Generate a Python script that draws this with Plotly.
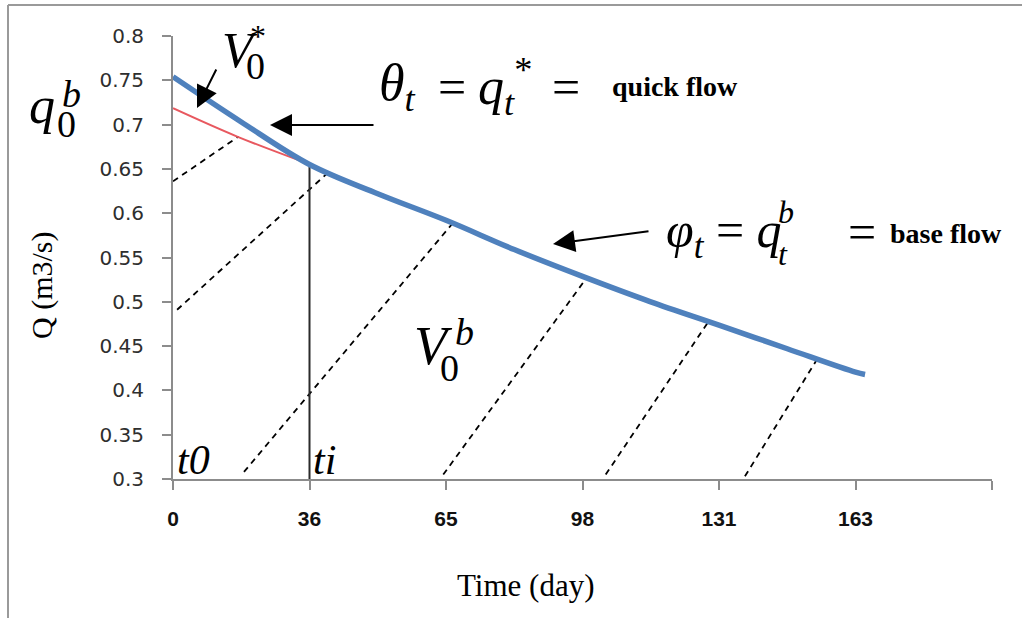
import plotly.graph_objects as go

# Time axis: evenly spaced slots, each labelled with its day number
slot_pos = [0, 1, 2, 3, 4, 5, 6]
day_labels = ["0", "36", "65", "98", "131", "163", ""]

# Discharge axis ticks
q_ticks = [0.3, 0.35, 0.4, 0.45, 0.5, 0.55, 0.6, 0.65, 0.7, 0.75, 0.8]
q_tick_text = ["0.3", "0.35", "0.4", "0.45", "0.5", "0.55", "0.6", "0.65", "0.7", "0.75", "0.8"]

# Observed recession discharge Q (m3/s)
flow_x = [0, 0.5, 1.0, 1.5, 2.0, 2.5, 3.0, 3.5, 4.0, 4.5, 5.0, 5.07]
flow_q = [0.754, 0.703, 0.655, 0.622, 0.592, 0.559, 0.5287, 0.500, 0.4737, 0.447, 0.4206, 0.418]

# Base-flow recession extended back from ti to t0
base_x = [0, 0.47, 0.98]
base_q = [0.7185, 0.6865, 0.6565]

# Vertical marker at ti
ti_x = [1, 1]
ti_q = [0.3, 0.656]

# Hatching under the base-flow volume (start / end of each dashed segment)
hatch_x0 = [0.0, 0.03, 0.52, 1.98, 3.17, 4.19]
hatch_q0 = [0.636, 0.491, 0.308, 0.305, 0.305, 0.303]
hatch_x1 = [0.48, 1.13, 2.04, 3.03, 3.92, 4.72]
hatch_q1 = [0.6865, 0.645, 0.587, 0.527, 0.477, 0.4355]

fig = go.Figure()

for xa, qa, xb, qb in zip(hatch_x0, hatch_q0, hatch_x1, hatch_q1):
    fig.add_trace(go.Scatter(x=[xa, xb], y=[qa, qb], mode="lines",
                             line=dict(color="black", width=1.8, dash="6px,5px"),
                             hoverinfo="skip"))

fig.add_trace(go.Scatter(x=ti_x, y=ti_q, mode="lines",
                         line=dict(color="#2b2b2b", width=2), hoverinfo="skip"))
fig.add_trace(go.Scatter(x=base_x, y=base_q, mode="lines",
                         line=dict(color="#e8585f", width=2, shape="spline"), hoverinfo="skip"))
fig.add_trace(go.Scatter(x=flow_x, y=flow_q, mode="lines",
                         line=dict(color="#4f81bd", width=5.5, shape="spline"), hoverinfo="skip"))

L, T, W, H = 173, 36, 819, 443


def px(x):
    return (x - L) / W


def py(y):
    return (T + H - y) / H


SERIF = "Liberation Serif"


def note(text, x, y, size, xanchor="center", family=SERIF, **kw):
    return dict(text=text, x=px(x), y=py(y), xref="paper", yref="paper",
                showarrow=False, xanchor=xanchor, yanchor="middle",
                font=dict(family=family, size=size, color="black"), **kw)


def arrow(tip, tail):
    return dict(text="", x=px(tip[0]), y=py(tip[1]), xref="paper", yref="paper",
                ax=tail[0] - tip[0], ay=tail[1] - tip[1], showarrow=True,
                arrowhead=2, arrowsize=2.2, arrowwidth=2, arrowcolor="black")


annotations = [
    # q0^b
    note("<i>q</i>", 42, 106, 52),
    note("<i>b</i>", 71, 94, 38),
    note("0", 67, 124, 38),
    # V0^*
    note("<i>V</i>", 240, 50, 50),
    note("*", 258, 36, 32),
    note("0", 255, 66, 38),
    # V0^b
    note("<i>V</i>", 433, 346, 54),
    note("<i>b</i>", 464, 332, 38),
    note("0", 449, 368, 38),
    # quick flow
    note("<i>θ</i><sub><i>t</i></sub>", 377, 86, 52, xanchor="left"),
    note("=", 452, 87, 50),
    note("<i>q</i><sub><i>t</i></sub><sup>*</sup>", 476, 86, 52, xanchor="left"),
    note("=", 566, 87, 50),
    note("<b>quick flow</b>", 610, 87, 28, xanchor="left"),
    # base flow
    note("<i>φ</i><sub><i>t</i></sub> = <i>q</i>", 664, 234, 50, xanchor="left"),
    note("<i>b</i>", 786, 212, 32),
    note("<i>t</i>", 783, 254, 32),
    note("=", 862, 232, 50),
    note("<b>base flow</b>", 888, 233, 28, xanchor="left"),
    # time markers
    note("<i>t0</i>", 175, 460, 42, xanchor="left"),
    note("<i>ti</i>", 311, 460, 42, xanchor="left"),
    # axis titles
    note("Q (m3/s)", 42, 285, 30, textangle=-90),
    note("Time (day)", 526, 585, 31),
    # arrows
    arrow((197, 108), (217, 68)),
    arrow((270, 125), (375, 125)),
    arrow((553, 244), (650, 231)),
]

frame = dict(color="#9a9a9a", width=2)
fig.update_layout(
    width=1022, height=618,
    margin=dict(l=L, r=1022 - L - W, t=T, b=618 - T - H),
    paper_bgcolor="white", plot_bgcolor="white",
    showlegend=False,
    annotations=annotations,
    shapes=[
        dict(type="line", xref="paper", yref="paper",
             x0=px(8), x1=px(8), y0=py(5), y1=py(620), line=frame),
        dict(type="line", xref="paper", yref="paper",
             x0=px(8), x1=px(1024), y0=py(5), y1=py(5), line=frame),
    ],
)

fig.update_xaxes(range=[0, 6], tickmode="array", tickvals=slot_pos, ticktext=day_labels,
                 ticks="outside", ticklen=9, tickwidth=2, tickcolor="#8c8c8c",
                 showline=True, linecolor="#8c8c8c", linewidth=2,
                 showgrid=False, zeroline=False, ticklabelstandoff=11,
                 tickfont=dict(family="Liberation Sans", size=21, color="#111111", weight="bold"))
fig.update_yaxes(range=[0.3, 0.8], tickmode="array", tickvals=q_ticks, ticktext=q_tick_text,
                 ticks="outside", ticklen=9, tickwidth=2, tickcolor="#8c8c8c",
                 showline=True, linecolor="#8c8c8c", linewidth=2,
                 showgrid=False, zeroline=False, ticklabelstandoff=14,
                 tickfont=dict(family="DejaVu Sans", size=20, color="#2e2e2e"))

fig.write_html("out.html")
